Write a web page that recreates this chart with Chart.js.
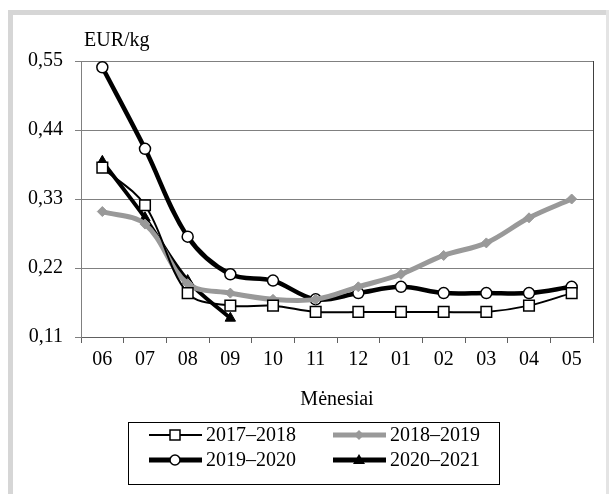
<!DOCTYPE html>
<html>
<head>
<meta charset="utf-8">
<script src="https://cdn.jsdelivr.net/npm/chart.js@4/dist/chart.umd.min.js"></script>
<style>
  html, body { margin: 0; padding: 0; background: #fff; }
  #wrap { width: 609px; height: 494px; }
</style>
</head>
<body>
<div id="wrap"><canvas id="chart1" width="609" height="494"></canvas></div>
<script>
// Duomenys
var menesiai = ['06', '07', '08', '09', '10', '11', '12', '01', '02', '03', '04', '05']
var s2017_2018 = [0.38, 0.32, 0.18, 0.16, 0.16, 0.15, 0.15, 0.15, 0.15, 0.15, 0.16, 0.18]
var s2018_2019 = [0.31, 0.29, 0.195, 0.18, 0.17, 0.17, 0.19, 0.21, 0.24, 0.26, 0.30, 0.33]
var s2019_2020 = [0.54, 0.41, 0.27, 0.21, 0.20, 0.17, 0.18, 0.19, 0.18, 0.18, 0.18, 0.19]
var s2020_2021 = [0.39, 0.30, 0.20, 0.14]
var yTicks = [0.11, 0.22, 0.33, 0.44, 0.55]
var serif = "'Liberation Serif', 'Times New Roman', serif"

var pavadinimai = ['2017–2018', '2018–2019', '2019–2020', '2020–2021']
var vienetai = 'EUR/kg'

// remelis, vienetai, desine plot krastine ir legenda
var extras = {
  id: 'extras',
  afterDraw: function(chart) {
    var ctx = chart.ctx
    var a = chart.chartArea
    ctx.save()
    // isorinis pilkas remelis
    ctx.fillStyle = '#d6d6d6'
    ctx.fillRect(8, 10, 5, 484)
    ctx.fillRect(8, 10, 601, 5)
    ctx.fillStyle = '#e4e4e4'
    ctx.fillRect(606, 10, 3, 484)
    // desine krastine
    ctx.strokeStyle = '#404040'
    ctx.lineWidth = 1
    ctx.beginPath()
    ctx.moveTo(Math.round(a.right) + 0.5, a.top)
    ctx.lineTo(Math.round(a.right) + 0.5, a.bottom)
    ctx.stroke()

    ctx.font = '20px ' + serif
    ctx.fillStyle = '#000'
    ctx.textBaseline = 'middle'
    ctx.textAlign = 'left'
    ctx.fillText(vienetai, 84, 41)

    // legenda
    ctx.strokeStyle = '#000'
    ctx.lineWidth = 1
    ctx.strokeRect(128.5, 422.5, 371, 62)
    var spots = [[149, 435], [333, 435], [149, 460], [333, 460]]
    var styles = [
      {c: '#000', w: 2, m: 'rect'},
      {c: '#999999', w: 5, m: 'diamond'},
      {c: '#000', w: 5, m: 'circle'},
      {c: '#000', w: 5, m: 'triangle'}
    ]
    for (var i = 0; i < 4; i++) {
      var x = spots[i][0], y = spots[i][1], st = styles[i]
      var mx = x + 26
      ctx.strokeStyle = st.c
      ctx.lineWidth = st.w
      ctx.beginPath()
      ctx.moveTo(x, y)
      ctx.lineTo(x + 53, y)
      ctx.stroke()
      ctx.lineWidth = 1.5
      ctx.beginPath()
      if (st.m === 'rect') {
        ctx.fillStyle = '#fff'
        ctx.strokeStyle = '#000'
        ctx.rect(mx - 5, y - 5, 10, 10)
        ctx.fill(); ctx.stroke()
      } else if (st.m === 'diamond') {
        ctx.fillStyle = st.c
        ctx.moveTo(mx, y - 5); ctx.lineTo(mx + 5, y); ctx.lineTo(mx, y + 5); ctx.lineTo(mx - 5, y)
        ctx.closePath(); ctx.fill()
      } else if (st.m === 'circle') {
        ctx.fillStyle = '#fff'
        ctx.strokeStyle = '#000'
        ctx.arc(mx, y, 5, 0, Math.PI * 2)
        ctx.fill(); ctx.stroke()
      } else {
        ctx.fillStyle = '#000'
        ctx.moveTo(mx, y - 6); ctx.lineTo(mx + 6, y + 4); ctx.lineTo(mx - 6, y + 4)
        ctx.closePath(); ctx.fill()
      }
      ctx.fillStyle = '#000'
      ctx.fillText(pavadinimai[i], x + 57, y + 1)
    }
    ctx.restore()
  }
}

var lineData = {
  labels: menesiai,
  datasets: [
    {
      label               : pavadinimai[0],
      data                : s2017_2018,
      borderColor         : '#000',
      borderWidth         : 2,
      pointStyle          : 'rect',
      pointRadius         : 7.5,
      pointBackgroundColor: '#fff',
      pointBorderColor    : '#000',
      pointBorderWidth    : 1.5
    },
    {
      label               : pavadinimai[1],
      data                : s2018_2019,
      borderColor         : '#999999',
      borderWidth         : 5,
      pointStyle          : 'rectRot',
      pointRadius         : 5,
      pointBackgroundColor: '#999999',
      pointBorderColor    : '#999999',
      pointBorderWidth    : 1
    },
    {
      label               : pavadinimai[2],
      data                : s2019_2020,
      borderColor         : '#000',
      borderWidth         : 4.5,
      pointStyle          : 'circle',
      pointRadius         : 5.5,
      pointBackgroundColor: '#fff',
      pointBorderColor    : '#000',
      pointBorderWidth    : 1.5
    },
    {
      label               : pavadinimai[3],
      data                : s2020_2021,
      borderColor         : '#000',
      borderWidth         : 4,
      pointStyle          : 'triangle',
      pointRadius         : 6,
      pointBackgroundColor: '#000',
      pointBorderColor    : '#000',
      pointBorderWidth    : 1
    }
  ]
}

new Chart(document.getElementById('chart1').getContext('2d'), {
  type: 'line',
  data: lineData,
  plugins: [extras],
  options: {
    responsive: false,
    animation: false,
    devicePixelRatio: 1,
    layout: { padding: { left: 21, right: 16, top: 61, bottom: 82 } },
    elements: { line: { tension: 0.35, fill: false } },
    plugins: {
      legend: { display: false },
      tooltip: { enabled: false },
      title: { display: false }
    },
    scales: {
      x: {
        offset: true,
        afterFit: function(scale) { scale.height = 75 },
        grid: { offset: true, drawOnChartArea: false, tickLength: 6, color: '#606060' },
        border: { display: true, color: '#606060' },
        ticks: { color: '#000', padding: 5, font: { family: serif, size: 20 }, maxRotation: 0 },
        title: {
          display: true,
          text: 'Mėnesiai',
          color: '#000',
          font: { family: serif, size: 20 },
          padding: { top: 0, bottom: 0 }
        }
      },
      y: {
        min: yTicks[0],
        max: yTicks[yTicks.length - 1],
        afterFit: function(scale) { scale.width = 60 },
        afterBuildTicks: function(scale) {
          scale.ticks = yTicks.map(function(v) { return { value: v } })
        },
        grid: { color: '#808080', tickLength: 6 },
        border: { display: true, color: '#808080' },
        ticks: {
          color: '#000',
          padding: 12,
          font: { family: serif, size: 20 },
          callback: function(v) { return v.toFixed(2).replace('.', ',') }
        }
      }
    }
  }
})
</script>
</body>
</html>
